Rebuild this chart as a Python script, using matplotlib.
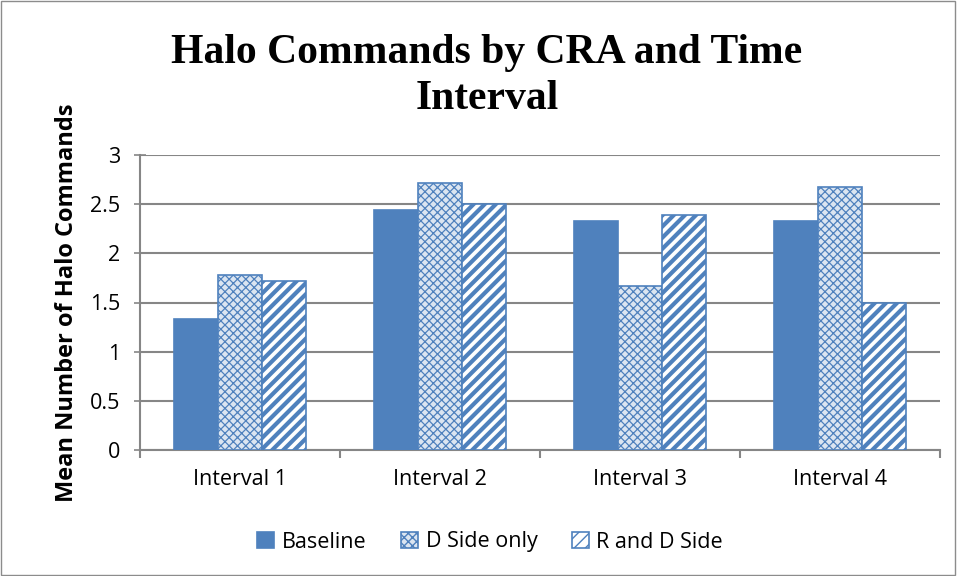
import numpy as np
import matplotlib
matplotlib.use("Agg")
import matplotlib.pyplot as plt
from matplotlib.patches import Rectangle

categories = ["Interval 1", "Interval 2", "Interval 3", "Interval 4"]
series_names = ["Baseline", "D Side only", "R and D Side"]
baseline = [1.33, 2.44, 2.33, 2.33]
d_side_only = [1.78, 2.72, 1.67, 2.67]
r_and_d_side = [1.72, 2.50, 2.39, 1.50]

blue = "#4F81BD"
grid_grey = "#868686"

plt.rcParams["font.family"] = ["Open Sans", "DejaVu Sans"]

fig = plt.figure(figsize=(9.57, 5.76), dpi=100)
fig.patches.append(Rectangle((0.001, 0.001), 0.997, 0.997, transform=fig.transFigure,
                             fill=False, edgecolor="#8c8c8c", linewidth=1))
ax = fig.add_axes([140 / 957, 1 - 450 / 576, 800 / 957, 295 / 576])

x = np.arange(len(categories))
w = 0.22
styles = [
    dict(color=blue, edgecolor=blue, hatch=None),
    dict(color="#dbe5f1", edgecolor=blue, hatch="xxxx"),
    dict(color="white", edgecolor=blue, hatch="///"),
]
hatch_lw = [1.0, 0.9, 3.0]
for i, (vals, st) in enumerate(zip([baseline, d_side_only, r_and_d_side], styles)):
    bars = ax.bar(x + (i - 1) * w, vals, w, label=series_names[i], zorder=3,
                  linewidth=1.2, **st)
    for b in bars:
        if hasattr(b, "set_hatch_linewidth"):
            b.set_hatch_linewidth(hatch_lw[i])

ax.set_xlim(-0.5, len(categories) - 0.5)
ax.set_ylim(0, 3)
ax.set_yticks(np.arange(0, 3.01, 0.5))
ax.set_yticklabels(["0", "0.5", "1", "1.5", "2", "2.5", "3"])
ax.set_xticks(x)
ax.set_xticklabels(categories)
ax.set_xticks(np.arange(-0.5, len(categories), 1), minor=True)
ax.tick_params(axis="x", which="major", length=0, labelsize=15.5, pad=14)
ax.tick_params(axis="x", which="minor", length=6, width=1.5, color=grid_grey, direction="out")
ax.tick_params(axis="y", length=8, width=1.2, color=grid_grey, direction="inout",
               labelsize=15.5, pad=10)
ax.yaxis.grid(True, color=grid_grey, linewidth=1.5, zorder=0)
ax.set_axisbelow(True)
for s in ["top", "right"]:
    ax.spines[s].set_visible(False)
ax.spines["left"].set_color(grid_grey)
ax.spines["left"].set_linewidth(1.5)
ax.spines["bottom"].set_color(grid_grey)
ax.spines["bottom"].set_linewidth(1.5)

ax.set_ylabel("Mean Number of Halo Commands", fontsize=17, fontweight="bold", labelpad=8)

fig.text(487 / 957, 1 - 76 / 576, "Halo Commands by CRA and Time\nInterval", ha="center",
         va="center", fontsize=30, fontweight="bold", family=["Liberation Serif", "DejaVu Serif"],
         linespacing=1.3)

ax.legend(loc="center", bbox_to_anchor=(490 / 957, 1 - 542 / 576), bbox_transform=fig.transFigure,
          ncol=3, frameon=False, fontsize=15.5, handlelength=0.8, handleheight=0.8,
          columnspacing=1.6, handletextpad=0.35)

fig.savefig("out.png", dpi=100)
